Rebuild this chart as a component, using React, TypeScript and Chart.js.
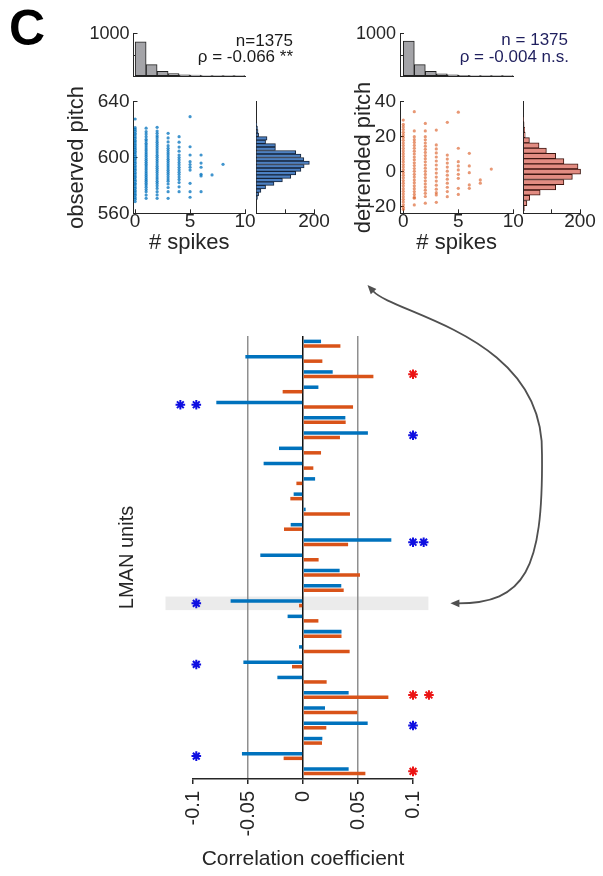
import React, { useEffect, useRef } from 'react';
import { Chart, registerables } from 'chart.js';

Chart.register(...registerables);

const FONT = "'Liberation Sans', Arial, Helvetica, sans-serif";
const INK = '#262626';
const BLUE = 'rgb(0,114,189)';
const ORANGE = 'rgb(217,83,25)';
Chart.defaults.font.family = FONT;
Chart.defaults.color = INK;

// ---------------- bottom panel: correlation per LMAN unit ----------------
const unitLabels = ['1', '2', '3', '4', '5', '6', '7', '8', '9', '10', '11', '12', '13', '14', '15',
  '16', '17', '18', '19', '20', '21', '22', '23', '24', '25', '26', '27', '28', '29'];
const corrObserved = [0.0164, -0.0524, 0.027, 0.014, -0.0788, 0.0385, 0.059, -0.0218, -0.0358, 0.011,
  -0.0085, 0.0024, -0.0112, 0.0803, -0.0388, 0.0333, 0.0348, -0.0658, -0.014, 0.035,
  -0.0036, -0.0542, -0.0233, 0.0415, 0.02, 0.0588, 0.0176, -0.0555, 0.0415];
const corrDetrended = [0.034, 0.0176, 0.064, -0.0185, 0.0455, 0.0388, 0.0336, 0.0164, 0.0094, -0.006,
  -0.0115, 0.0427, -0.0173, 0.041, 0.0142, 0.0518, 0.037, -0.0036, 0.014, 0.035,
  0.0424, -0.01, 0.0215, 0.0776, 0.0494, 0.0212, 0.0173, -0.0176, 0.0567];
const corrTickValues = [-0.1, -0.05, 0, 0.05, 0.1];
const corrTickLabels = ['-0.1', '-0.05', '0', '0.05', '0.1'];
const blueStarRows = ['5', '5', '7', '14', '14', '18', '22', '26', '28'];
const blueStarX = [-0.1115, -0.097, 0.1, 0.1, 0.1097, -0.097, -0.097, 0.1, -0.097];
const redStarRows = ['3', '24', '24', '29'];
const redStarX = [0.1, 0.1, 0.1145, 0.1];
const highlightRow = '18';
const highlightRange = [-0.125, 0.114];

// ---------------- top panels ----------------
const spikeBinCenters = [0.5, 1.5, 2.5, 3.5, 4.5, 5.5, 6.5, 7.5, 8.5, 9.5];
const spikeCountsObserved = [808, 273, 117, 59, 35, 24, 12, 8, 4, 2];
const spikeCountsDetrended = [826, 273, 117, 55, 35, 22, 12, 8, 4, 2];
const spikeTicks = [0, 5, 10];
const spikeTickLabels = ['0', '5', '10'];
const histCountTicks = [0, 500, 1000];
const histCountLabels = ['', '', '1000'];
const marginTicks = [0, 100, 200];
const marginTickLabels = ['', '', '200'];

// observed pitch (Hz) of each rendition, grouped by # spikes (0..8)
const observedPitchBySpikes = [
  [627.6, 621.4, 620.1, 618.9, 617.4, 616.3, 614.8, 613.7, 612.2, 611.2, 609.7, 608.5, 607.1, 606.0, 604.5, 603.4,
    602.0, 600.9, 599.4, 598.3, 596.9, 595.8, 594.3, 593.2, 591.8, 590.7, 589.2, 588.1, 586.7, 585.6, 584.1, 583.0,
    581.5, 580.5, 579.0, 577.9, 576.4, 575.3, 573.9, 572.8, 571.3, 570.1, 568.4],
  [621.0, 618.5, 616.8, 614.9, 613.0, 611.8, 610.2, 608.9, 607.5, 606.1, 604.8, 603.4, 602.0, 600.7, 599.3, 598.0,
    596.6, 595.2, 593.9, 592.5, 591.2, 589.8, 588.4, 587.1, 585.7, 584.3, 583.0, 581.6, 580.2, 578.7, 577.0, 575.4,
    573.1, 570.7],
  [621.6, 619.0, 617.3, 615.6, 614.2, 612.5, 611.0, 609.4, 607.9, 606.3, 604.7, 603.2, 601.6, 600.1, 598.5, 597.0,
    595.4, 593.8, 592.3, 590.7, 589.2, 587.6, 586.0, 584.5, 582.9, 581.4, 579.7, 577.8, 575.5, 573.2, 570.7],
  [617.3, 614.0, 611.2, 608.5, 606.6, 605.0, 603.4, 601.9, 600.3, 598.7, 597.2, 595.6, 594.0, 592.5, 590.9, 589.3,
    587.8, 586.2, 584.6, 583.0, 581.0, 578.5, 575.5, 570.7],
  [614.9, 611.0, 607.5, 604.5, 601.8, 600.0, 598.3, 596.5, 594.8, 593.0, 591.3, 589.5, 587.8, 586.0, 584.2, 582.0,
    579.0, 575.5],
  [629.3, 607.7, 601.8, 597.0, 595.0, 593.0, 591.0, 581.5, 575.5, 571.5],
  [601.8, 596.0, 593.0, 588.0, 586.8, 575.5],
  [587.5],
  [595.1],
];
const pitchTicks = [560, 600, 640];
const pitchTickLabels = ['560', '600', '640'];
const pitchBinCenters = [623.75, 621.25, 618.75, 616.25, 613.75, 611.25, 608.75, 606.25, 603.75, 601.25, 598.75,
  596.25, 593.75, 591.25, 588.75, 586.25, 583.75, 581.25, 578.75, 576.25, 573.75, 571.25];
const pitchBinCounts = [3, 5, 7, 9, 38, 33, 67, 67, 137, 155, 165, 184, 166, 155, 137, 120, 91, 62, 33, 17, 9, 5];

// detrended pitch of each rendition, grouped by # spikes (0..8)
const detrendedPitchBySpikes = [
  [29.5, 27.0, 25.6, 24.1, 22.5, 21.0, 19.5, 17.9, 16.4, 14.9, 13.3, 11.8, 10.3, 8.7, 7.2, 5.7, 4.1, 2.6, 1.1,
    -0.5, -2.0, -3.5, -5.1, -6.6, -8.1, -9.7, -11.2, -12.7, -14.3, -15.8, -17.3, -18.9, -20.4, -21.5],
  [34.3, 23.3, 20.0, 18.3, 16.7, 15.0, 13.4, 11.7, 10.1, 8.4, 6.8, 5.1, 3.5, 1.8, 0.2, -1.5, -3.1, -4.8, -6.4,
    -8.1, -9.7, -11.4, -13.0, -14.6, -15.2, -19.0],
  [27.6, 23.3, 20.0, 18.2, 16.4, 14.6, 12.8, 11.0, 9.2, 7.4, 5.6, 3.8, 2.0, 0.2, -1.6, -3.4, -5.2, -7.0, -8.8,
    -10.6, -12.4, -14.2, -18.0],
  [23.8, 15.3, 13.0, 10.7, 8.4, 6.1, 3.8, 1.5, -0.8, -3.1, -5.4, -7.7, -10.0, -12.0, -13.3, -17.5],
  [28.2, 9.5, 7.2, 4.9, 2.6, 0.3, -2.0, -4.3, -6.6, -8.9, -11.4, -14.3],
  [34.0, 13.4, 5.7, 3.3, 1.0, -1.5, -3.8, -9.5, -13.0],
  [10.5, 3.3, -0.6, -7.6, -9.5],
  [-4.7, -6.6],
  [1.5],
];
const detTicks = [-20, 0, 20, 40];
const detTickLabels = ['-20', '0', '20', '40'];
const detBinCenters = [30, 27, 24, 21, 18, 15, 12, 9, 6, 3, 0, -3, -6, -9, -12, -15, -18, -21];
const detBinCounts = [1, 2, 4, 6, 21, 55, 81, 114, 143, 193, 202, 173, 143, 114, 59, 22, 12, 3];

// ---------------- helpers ----------------
type Box = { left: number; top: number; width: number; height: number };

const base = (padding: any) => ({
  responsive: false,
  maintainAspectRatio: false,
  animation: false,
  devicePixelRatio: 1,
  events: [],
  layout: { padding, autoPadding: false },
  plugins: { legend: { display: false }, tooltip: { enabled: false } },
});

const inward = { display: true, drawOnChartArea: false, drawTicks: true, tickLength: -4, tickColor: INK, tickWidth: 1 };
const border1 = { display: true, color: INK, width: 1 };
const fixWidth = (w: number) => (s: any) => { s.width = w; };
const fixHeight = (h: number) => (s: any) => { s.height = h; };
const setTicks = (values: number[]) => (s: any) => { s.ticks = values.map((v) => ({ value: v })); };
const tickOpts = (labels: string[], size: number, padding: number) => ({
  autoSkip: false, maxRotation: 0, minRotation: 0, padding, color: INK,
  font: { family: FONT, size }, callback: (_v: any, i: number) => labels[i],
});
const axisTitle = (text: string, size: number) => ({
  display: true, text, color: INK, font: { family: FONT, size }, padding: { top: 4, bottom: 4 },
});

function ChartCanvas({ box, config }: { box: Box; config: () => any }) {
  const ref = useRef<HTMLCanvasElement | null>(null);
  useEffect(() => {
    if (!ref.current) return;
    const chart = new Chart(ref.current, config());
    return () => chart.destroy();
  }, []);
  return (
    <canvas ref={ref} width={box.width} height={box.height}
      style={{ position: 'absolute', left: box.left, top: box.top, width: box.width, height: box.height }} />
  );
}

// ---------------- configs ----------------
function spikeHistConfig(counts: number[], xMin: number, yW: number, xH: number, pad: any,
  notes: { text: string; dx: number; dy: number }[], noteColor: string) {
  const notePlugin = {
    id: 'notes',
    afterDraw(chart: any) {
      const { ctx, chartArea } = chart;
      ctx.save();
      ctx.font = `17px ${FONT}`;
      ctx.fillStyle = noteColor;
      ctx.textAlign = 'right';
      ctx.textBaseline = 'middle';
      notes.forEach((n) => ctx.fillText(n.text, chartArea.right + n.dx, chartArea.top + n.dy));
      ctx.restore();
    },
  };
  return {
    type: 'bar',
    data: {
      datasets: [{
        data: spikeBinCenters.map((c, i) => ({ x: c, y: counts[i] })),
        backgroundColor: '#a4a4a8', borderColor: '#202020', borderWidth: 1, borderSkipped: false,
        barPercentage: 1, categoryPercentage: 1,
      }],
    },
    options: {
      ...base(pad),
      scales: {
        x: {
          type: 'linear', min: xMin, max: 10, offset: false, afterBuildTicks: setTicks(spikeTicks),
          ticks: { display: false }, grid: { display: false, offset: false }, border: border1, afterFit: fixHeight(xH),
        },
        y: {
          type: 'linear', min: 0, max: 1000, afterBuildTicks: setTicks(histCountTicks),
          ticks: tickOpts(histCountLabels, 18, 8), grid: inward, border: border1, afterFit: fixWidth(yW),
        },
      },
    },
    plugins: [notePlugin],
  };
}

function scatterConfig(cols: number[][], color: string, xMin: number, yMin: number, yMax: number,
  yTicks: number[], yLabels: string[], yTitle: string, yW: number, pad: any) {
  return {
    type: 'scatter',
    data: {
      datasets: [{
        data: cols.flatMap((ys, k) => ys.map((y) => ({ x: k, y }))),
        pointRadius: 1.6, pointBorderWidth: 0, backgroundColor: color, pointBackgroundColor: color,
      }],
    },
    options: {
      ...base(pad),
      scales: {
        x: {
          type: 'linear', min: xMin, max: 10, afterBuildTicks: setTicks(spikeTicks),
          ticks: tickOpts(spikeTickLabels, 19, 1.5), grid: inward, border: border1,
          title: axisTitle('# spikes', 22), afterFit: fixHeight(46.7),
        },
        y: {
          type: 'linear', min: yMin, max: yMax, afterBuildTicks: setTicks(yTicks),
          ticks: tickOpts(yLabels, 19, 8), grid: inward, border: border1,
          title: axisTitle(yTitle, 22), afterFit: fixWidth(yW),
        },
      },
    },
  };
}

function marginConfig(centers: number[], counts: number[], fill: string, edge: string, yMin: number,
  yMax: number, yTicks: number[], yW: number, pad: any) {
  return {
    type: 'bar',
    data: {
      datasets: [{
        data: centers.map((c, i) => ({ x: counts[i], y: c })),
        backgroundColor: fill, borderColor: edge, borderWidth: 1, borderSkipped: 'start',
        barPercentage: 1, categoryPercentage: 1, clip: false,
      }],
    },
    options: {
      ...base(pad),
      indexAxis: 'y',
      scales: {
        x: {
          type: 'linear', min: 0, max: 200, afterBuildTicks: setTicks(marginTicks),
          ticks: tickOpts(marginTickLabels, 19, 1.5), grid: inward, border: border1, afterFit: fixHeight(46.7),
        },
        y: {
          type: 'linear', min: yMin, max: yMax, offset: false, afterBuildTicks: setTicks(yTicks),
          ticks: { display: false }, grid: { display: false, offset: false }, border: border1, afterFit: fixWidth(yW),
        },
      },
    },
  };
}

function correlationConfig() {
  const rowIndex = unitLabels.indexOf(highlightRow);
  const bandPlugin = {
    id: 'band',
    beforeDraw(chart: any) {
      const { ctx } = chart;
      const { x, y } = chart.scales;
      const yc = y.getPixelForValue(rowIndex);
      const h = Math.abs(y.getPixelForValue(1) - y.getPixelForValue(0)) * 0.89;
      const x0 = x.getPixelForValue(highlightRange[0]);
      const x1 = x.getPixelForValue(highlightRange[1]);
      ctx.save();
      ctx.fillStyle = '#ebebeb';
      ctx.fillRect(x0, yc - h / 2, x1 - x0, h);
      ctx.restore();
    },
  };
  // significance asterisks, placed through the chart's own scales
  const starPlugin = {
    id: 'stars',
    afterDatasetsDraw(chart: any) {
      const { ctx } = chart;
      const { x, y } = chart.scales;
      const drawSet = (rows: string[], xs: number[], color: string) => {
        ctx.save();
        ctx.strokeStyle = color;
        ctx.lineWidth = 2;
        ctx.lineCap = 'butt';
        rows.forEach((r, i) => {
          const cx = x.getPixelForValue(xs[i]);
          const cy = y.getPixelForValue(unitLabels.indexOf(r));
          const R = 4.8;
          ctx.beginPath();
          for (let k = 0; k < 4; k++) {
            const a = (k * Math.PI) / 4;
            ctx.moveTo(cx - R * Math.cos(a), cy - R * Math.sin(a));
            ctx.lineTo(cx + R * Math.cos(a), cy + R * Math.sin(a));
          }
          ctx.stroke();
        });
        ctx.restore();
      };
      drawSet(blueStarRows, blueStarX, 'rgb(15,15,225)');
      drawSet(redStarRows, redStarX, 'rgb(235,20,20)');
    },
  };
  const arrowPlugin = {
    id: 'arrow',
    afterDraw(chart: any) {
      const { ctx } = chart;
      const { x, y } = chart.scales;
      const yc = y.getPixelForValue(rowIndex);
      const tipB = { x: x.getPixelForValue(highlightRange[1]) + 22, y: yc };
      const p0 = { x: 373, y: 21 };
      const c1 = { x: 395, y: 45 };
      const head = (tx: number, ty: number, dx: number, dy: number) => {
        const L = Math.hypot(dx, dy);
        const ux = dx / L, uy = dy / L;
        const len = 9, hw = 3.8;
        ctx.beginPath();
        ctx.moveTo(tx, ty);
        ctx.lineTo(tx - ux * len - uy * hw, ty - uy * len + ux * hw);
        ctx.lineTo(tx - ux * len + uy * hw, ty - uy * len - ux * hw);
        ctx.closePath();
        ctx.fill();
      };
      ctx.save();
      ctx.strokeStyle = '#505050';
      ctx.fillStyle = '#505050';
      ctx.lineWidth = 1.8;
      ctx.beginPath();
      ctx.moveTo(p0.x, p0.y);
      ctx.bezierCurveTo(c1.x, c1.y, 545, 65, 542, 185);
      ctx.bezierCurveTo(543, 300, 525, tipB.y, tipB.x + 7, tipB.y);
      ctx.stroke();
      head(p0.x - 5.5, p0.y - 6, p0.x - c1.x, p0.y - c1.y);
      head(tipB.x, tipB.y, -1, 0);
      ctx.restore();
    },
  };
  const gridColor = (v: number) => {
    if (Math.abs(v) < 1e-9) return '#111111';
    if (Math.abs(Math.abs(v) - 0.05) < 1e-9) return '#8f8f8f';
    return 'rgba(0,0,0,0)';
  };
  return {
    type: 'bar',
    data: {
      labels: unitLabels,
      datasets: [
        { type: 'bar', data: corrObserved, backgroundColor: BLUE, borderWidth: 0, barPercentage: 0.78, categoryPercentage: 0.59 },
        { type: 'bar', data: corrDetrended, backgroundColor: ORANGE, borderWidth: 0, barPercentage: 0.78, categoryPercentage: 0.59 },
      ],
    },
    options: {
      ...base({ left: 111, top: 66, right: 190, bottom: 0 }),
      indexAxis: 'y',
      scales: {
        x: {
          type: 'linear', min: -0.1, max: 0.1, position: 'bottom',
          afterBuildTicks: setTicks(corrTickValues),
          ticks: {
            autoSkip: false, minRotation: 90, maxRotation: 90, padding: 7, color: INK,
            font: { family: FONT, size: 20 }, callback: (_v: any, i: number) => corrTickLabels[i],
          },
          grid: {
            display: true, drawOnChartArea: true, drawTicks: true, tickLength: 5, tickColor: INK, tickWidth: 1.5,
            color: (c: any) => gridColor(c.tick ? c.tick.value : 1),
            lineWidth: 1.5,
          },
          border: { display: true, color: INK, width: 1.5 },
          title: axisTitle('Correlation coefficient', 21),
          afterFit: fixHeight(97),
        },
        y: {
          type: 'category', offset: true,
          ticks: { display: false }, grid: { display: false }, border: { display: false },
          title: axisTitle('LMAN units', 20),
          afterFit: fixWidth(82),
        },
      },
    },
    plugins: [bandPlugin, starPlugin, arrowPlugin],
  };
}

// ---------------- layout ----------------
const boxes: Record<string, Box> = {
  histL: { left: 60, top: 15, width: 240, height: 80 },
  histR: { left: 340, top: 15, width: 263, height: 80 },
  scatL: { left: 60, top: 68, width: 200, height: 192 },
  scatR: { left: 347, top: 68, width: 180, height: 192 },
  margL: { left: 240, top: 88, width: 100, height: 172 },
  margR: { left: 505, top: 88, width: 98, height: 172 },
  corr: { left: 0, top: 270, width: 603, height: 606 },
};

export default function App() {
  return (
    <div style={{ position: 'absolute', left: 0, top: 0, width: 603, height: 876, background: '#ffffff', overflow: 'hidden' }}>
      <div style={{ position: 'absolute', left: 9, top: 3, fontFamily: FONT, fontWeight: 'bold', fontSize: 50, lineHeight: '50px', color: '#000' }}>C</div>
      <ChartCanvas box={boxes.histL} config={() => spikeHistConfig(spikeCountsObserved, -0.15, 73.5, 4.3,
        { left: 0, top: 18.3, right: 55, bottom: 0 },
        [{ text: 'n=1375', dx: 48, dy: 7.7 }, { text: 'ρ = -0.066 **', dx: 48, dy: 23.7 }], '#1a1a1a')} />
      <ChartCanvas box={boxes.histR} config={() => spikeHistConfig(spikeCountsDetrended, -0.3, 60, 4.3,
        { left: 0, top: 18.3, right: 89.7, bottom: 0 },
        [{ text: 'n = 1375', dx: 54.7, dy: 6.7 }, { text: 'ρ = -0.004 n.s.', dx: 55.7, dy: 23.7 }], '#1f1f5e')} />
      <ChartCanvas box={boxes.scatL} config={() => scatterConfig(observedPitchBySpikes, 'rgba(0,114,189,0.75)', -0.15,
        560, 640, pitchTicks, pitchTickLabels, 'observed pitch', 73.5, { left: 0, top: 33.7, right: 15, bottom: 0 })} />
      <ChartCanvas box={boxes.scatR} config={() => scatterConfig(detrendedPitchBySpikes, 'rgba(217,83,25,0.6)', -0.3,
        -23.8, 40, detTicks, detTickLabels, 'detrended pitch', 53, { left: 0, top: 33.7, right: 13.7, bottom: 0 })} />
      <ChartCanvas box={boxes.margL} config={() => marginConfig(pitchBinCenters, pitchBinCounts, 'rgb(76,128,194)', '#16243a',
        560, 640, pitchTicks, 16, { left: 0, top: 13.7, right: 26, bottom: 0 })} />
      <ChartCanvas box={boxes.margR} config={() => marginConfig(detBinCenters, detBinCounts, 'rgb(226,140,130)', '#3e1610',
        -23.8, 40, detTicks, 18.5, { left: 0, top: 13.7, right: 23, bottom: 0 })} />
      <ChartCanvas box={boxes.corr} config={correlationConfig} />
    </div>
  );
}
